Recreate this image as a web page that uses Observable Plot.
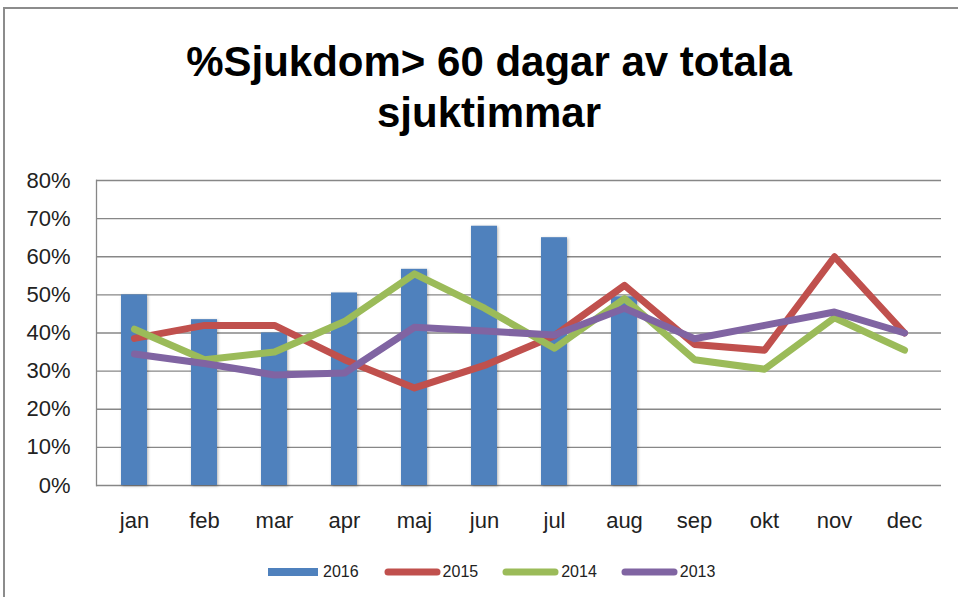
<!DOCTYPE html>
<html><head><meta charset="utf-8">
<script src="https://cdn.jsdelivr.net/npm/d3@7"></script>
<script src="https://cdn.jsdelivr.net/npm/@observablehq/plot@0.6"></script>
<style>
html,body{margin:0;padding:0;background:#fff;}
body{width:958px;height:597px;overflow:hidden;position:relative;font-family:"Liberation Sans",sans-serif;}
#frame{position:absolute;left:3px;top:7px;width:1000px;height:700px;border:2px solid #8c8c8c;box-sizing:border-box;}
#title{position:absolute;left:0;width:978px;top:36px;text-align:center;font-weight:bold;font-size:42px;line-height:51px;font-family:"Liberation Sans",sans-serif;color:#000;}
#chart{position:absolute;left:0;top:0;}
#legend{position:absolute;top:563px;left:268px;display:flex;align-items:center;font-size:16px;color:#222;}
.item{display:flex;align-items:center;margin-right:24px;}
.item span{margin-left:2px;}
.item.bar span{margin-left:5px;}
.item.bar{margin-right:25px;}
</style>
</head><body>
<div id="frame"></div>
<div id="chart"></div>
<div id="title">%Sjukdom&gt; 60 dagar av totala<br>sjuktimmar</div>
<div id="legend"></div>
<script>
const months = ["jan","feb","mar","apr","maj","jun","jul","aug","sep","okt","nov","dec"];
const seriesNames = ["2016","2015","2014","2013"];
const seriesColors = ["#4F81BD","#C0504D","#9BBB59","#8064A2"];
const v2016 = [50, 43.5, 40, 50.5, 56.7, 68, 65, 49.5];
const v2015 = [38.6, 42, 42, 33, 25.6, 31.5, 39.3, 52.5, 37, 35.5, 60, 40];
const v2014 = [41, 33, 35, 43, 55.5, 46.5, 36, 49, 33, 30.5, 44, 35.5];
const v2013 = [34.5, 32, 29, 29.5, 41.5, 40.5, 39.5, 46.5, 38.5, 42, 45.5, 40];
const yTicks = [0, 0.1, 0.2, 0.3, 0.4, 0.5, 0.6, 0.7, 0.8];

const bars = v2016.map((v, i) => ({month: months[i], value: v / 100}));
const lines = [["2015", v2015], ["2014", v2014], ["2013", v2013]]
  .flatMap(([s, vals]) => vals.map((v, i) => ({series: s, month: months[i], value: v / 100})));

const chart = Plot.plot({
  width: 958, height: 545,
  marginTop: 180, marginBottom: 60, marginLeft: 96, marginRight: 17,
  style: {fontSize: "22px", fontFamily: "Liberation Sans, sans-serif", color: "#222", background: "transparent", overflow: "visible"},
  x: {type: "band", domain: months, padding: 0, label: null, tickSize: 0, tickPadding: 27},
  y: {domain: [0, 0.8], ticks: yTicks, tickFormat: d3.format(".0%"), tickSize: 0, tickPadding: 26, label: null},
  color: {domain: seriesNames, range: seriesColors},
  marks: [
    Plot.gridY(yTicks, {stroke: "#878787", strokeOpacity: 1, strokeWidth: 1.3}),
    Plot.frame({anchor: "left", stroke: "#878787", strokeWidth: 1.3}),
    Plot.barY(bars, {x: "month", y: "value", fill: seriesColors[0], insetLeft: 22, insetRight: 22}),
    Plot.line(lines, {x: "month", y: "value", z: "series", stroke: "series", strokeWidth: 7, strokeLinecap: "round", strokeLinejoin: "round"})
  ]
});
const barGroup = chart.querySelector('g[aria-label="bar"]');
if (barGroup) barGroup.style.filter = "drop-shadow(1.5px 1.5px 1.5px rgba(0,0,0,0.3))";
document.getElementById("chart").appendChild(chart);

const legend = document.getElementById("legend");
seriesNames.forEach((name, i) => {
  const item = document.createElement("div");
  const isBar = i === 0;
  item.className = isBar ? "item bar" : "item";
  const w = isBar ? 50 : 57;
  item.innerHTML = `<svg width="${w}" height="10">` + (isBar
    ? `<rect x="0" y="1" width="${w}" height="8" fill="${seriesColors[i]}"/>`
    : `<line x1="4" y1="5" x2="${w - 4}" y2="5" stroke="${seriesColors[i]}" stroke-width="7" stroke-linecap="round"/>`) +
    `</svg><span>${name}</span>`;
  legend.appendChild(item);
});
</script>
</body></html>
